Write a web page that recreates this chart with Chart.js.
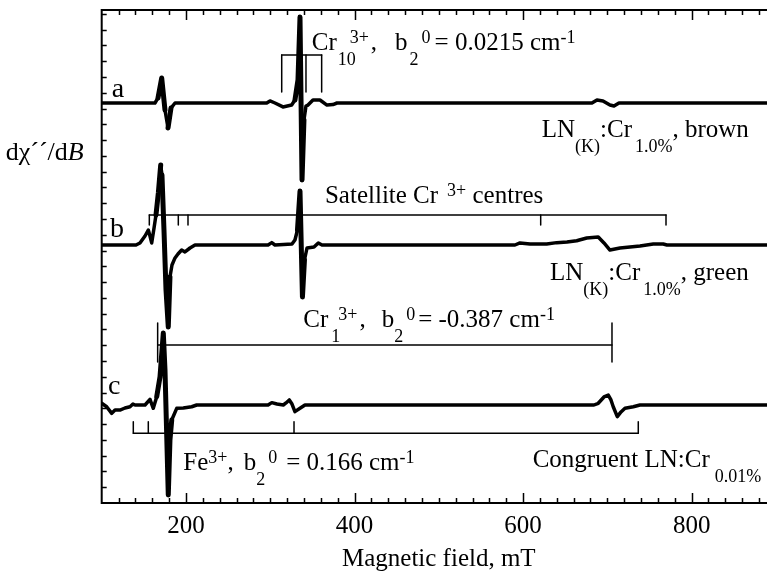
<!DOCTYPE html>
<html><head><meta charset="utf-8">
<script src="https://cdn.jsdelivr.net/npm/chart.js@4"></script>
<style>
html,body{margin:0;padding:0;overflow:hidden;background:#fff;width:767px;height:576px}
#wrap{position:absolute;left:0;top:0;width:800px;height:576px}
</style>
</head><body><div id="wrap"><canvas id="c" width="800" height="576"></canvas></div>
<script>
// ---- data (magnetic field in mT, signal in axis units relative to each trace baseline) ----
const xTickLabels = [200, 400, 600, 800];
const traceNames = ['a', 'b', 'c'];
const offsets = [25.355, 16.354, 6.212];

const fieldA = [100,163.2,166.8,171.2,175.1,178.7,182.2,187,295.8,299.7,305.6,315.1,325.4,329.3,332.9,335.3,337.7,340.0,342.4,344.8,350.7,359.0,367.3,374.4,379.2,681.7,687.7,694.8,703.1,707.9,713.8,900];
const sigA   = [0,0,0.32,1.58,-0.44,-1.58,-0.32,0,0,0.13,0,-0.25,-0.13,0.19,1.46,5.45,-4.88,-1.08,-0.19,-0.13,0.19,0.19,-0.13,-0.1,0,0,0.19,0.13,-0.13,-0.19,0,0];

const fieldB = [100,140.7,145.4,151.4,155.3,157.3,159.3,162.1,164.4,167.2,170.0,171.5,173.9,176.3,179.0,181.0,183.4,187.0,190.5,194.9,198.8,204.8,210.7,297.4,301.8,305.6,325.8,329.3,332.3,335.3,338.2,340.6,343.6,351.9,357.0,361.4,590.4,596.3,608.2,628.0,639.9,652.1,663.6,675.5,689.2,696.0,703.1,715.0,738.7,754.5,766.3,770.7,900];
const sigB   = [0,0,0.13,0.57,0.95,0.57,0.13,1.08,1.90,3.30,5.07,4.44,0.95,-2.85,-5.20,-2.03,-1.27,-0.82,-0.57,-0.32,-0.44,-0.19,0,0,0.15,0,0.06,0.32,0.95,3.42,-3.30,-0.95,-0.19,-0.13,0.13,0,0,0.13,0.06,0.06,0.15,0.19,0.27,0.44,0.51,0.13,-0.32,-0.19,-0.06,0.06,0.06,0,0];

const fieldC = [100,105.9,111.9,115.8,121.7,127.6,133.6,137.1,139.5,151.4,157.3,161.2,165.3,169.2,173.1,175.1,179.0,181.0,183.1,189.0,196.8,206.8,212.7,297.4,301.8,308.0,315.5,318.7,322.6,325.8,329.3,335.3,341.2,684.1,689.2,696.0,701.1,704.3,707.0,711.8,716.2,720.9,730.8,738.7,900];
const sigC   = [0.11,-0.11,-0.53,-0.32,-0.32,-0.19,-0.11,0.06,0,0,0.36,-0.21,0.53,1.79,4.56,2.22,-5.70,-2.22,-0.95,-0.21,-0.19,-0.11,0,0,0.15,0.06,0,0.13,0.32,0.06,-0.42,-0.21,0,0,0.11,0.51,0.63,0.32,-0.11,-0.74,-0.44,-0.21,-0.11,0,0];

// line-position brackets (field values of the marked resonances)
const cr10Lines = [313.6, 342.4, 361.0];
const satLines  = [156.5, 190.9, 202.4, 620.9, 769.6];
const cr1Lines  = [166.4, 705.5];
const feLines   = [137.5, 155.3, 328.2, 736.7];

// ---- build ----
const FONT = '"Liberation Serif","Times New Roman",serif';
const MINOR_STEP = 20;

function trace(f, s, off) { return f.map((v, i) => ({x: v, y: off + s[i]})); }
function bracket(ticks, level, lo, hi) {
  const pts = [{x: ticks[0], y: level}, {x: ticks[ticks.length - 1], y: level}, {x: ticks[0], y: null}];
  ticks.forEach(t => { pts.push({x: t, y: lo}, {x: t, y: hi}, {x: t, y: null}); });
  return pts;
}
const lineDs = (data, w, steep) => ({data, showLine: true, borderColor: '#000', borderWidth: w, pointRadius: 0,
  borderJoinStyle: 'round', borderCapStyle: 'round', spanGaps: false, tension: 0,
  segment: steep ? {borderWidth: c => Math.abs(c.p1.parsed.y - c.p0.parsed.y) > 1.2 ? 5 : w} : {}});

const datasets = [
  lineDs(trace(fieldA, sigA, offsets[0]), 3.5, true),
  lineDs(trace(fieldB, sigB, offsets[1]), 3.5, true),
  lineDs(trace(fieldC, sigC, offsets[2]), 3.5, true),
  lineDs(bracket(cr10Lines, 28.40, 26.05, 28.40), 1.5),
  lineDs(bracket(satLines, 18.26, 17.62, 18.26), 1.5),
  lineDs(bracket(cr1Lines, 10.02, 8.94, 11.41), 1.5),
  lineDs(bracket(feLines, 4.42, 4.42, 5.15), 1.5)
];

// annotation texts: [text, kind, gap]
const annotations = [
  {f: 349.2, v: 28.71, segs: [['Cr'], ['10', 'sub', 1], ['3+', 'sup', -6], [',', 'n', 2], ['b', 'n', 18], ['2', 'sub', 2], ['0', 'sup', 3], ['= 0.0215 cm', 'n', 4], ['-1', 'sup', 0]]},
  {f: 622.1, v: 23.20, segs: [['LN'], ['(K)', 'sub', 0], [':Cr', 'n', 0], ['1.0%', 'sub', 3], [', brown', 'n', 0]]},
  {f: 364.9, v: 19.02, segs: [['Satellite Cr'], ['3+', 'sup', 9], [' centres', 'n', 0]]},
  {f: 339.2, v: 11.18, segs: [['Cr'], ['1', 'sub', 3], ['3+', 'sup', -2], [',', 'n', 2], ['b', 'n', 16], ['2', 'sub', 0], ['0', 'sup', 3], ['= -0.387 cm', 'n', 3], ['-1', 'sup', 0]]},
  {f: 631.9, v: 14.14, segs: [['LN'], ['(K)', 'sub', 0], [':Cr', 'n', 0], ['1.0%', 'sub', 3], [', green', 'n', 0]]},
  {f: 196.8, v: 2.09, segs: [['Fe'], ['3+', 'sup', 0], [',', 'n', 0], ['b', 'n', 10], ['2', 'sub', 0], ['0', 'sup', 3], ['= 0.166 cm', 'n', 9], ['-1', 'sup', 0]]},
  {f: 611.4, v: 2.30, segs: [['Congruent LN:Cr'], ['0.01%', 'sub', 5]]}
];
const traceLabelPos = [[111.9, 25.75], [109.8, 16.88], [107.5, 6.94]];

const BIG = 25, SMALL = 18, SUBDY = 15, SUPDY = 7;
function rich(ctx, x, y, segs) {
  let cx = x;
  segs.forEach(([t, k = 'n', gap = 0]) => {
    const small = k === 'sub' || k === 'sup';
    ctx.font = (small ? SMALL : BIG) + 'px ' + FONT;
    const dy = k === 'sub' ? SUBDY : (k === 'sup' ? -SUPDY : 0);
    cx += gap;
    ctx.fillText(t, cx, y + dy);
    cx += ctx.measureText(t).width;
  });
}

const framePlugin = {
  id: 'frame',
  afterDatasetsDraw(chart) {
    const {ctx, chartArea: a, scales: {x, y}} = chart;
    ctx.save();
    ctx.strokeStyle = '#000';
    ctx.lineWidth = 2;
    ctx.strokeRect(a.left, a.top, a.right - a.left, a.bottom - a.top);
    ctx.lineWidth = 1.5;
    ctx.beginPath();
    for (let v = x.min + MINOR_STEP; v < x.max; v += MINOR_STEP) {
      const px = Math.round(x.getPixelForValue(v)) + 0.5;
      const len = xTickLabels.includes(v) ? 10 : 5;
      ctx.moveTo(px, a.bottom); ctx.lineTo(px, a.bottom - len);
      ctx.moveTo(px, a.top); ctx.lineTo(px, a.top + len);
    }
    for (let v = y.min + 1; v < y.max; v += 1) {
      const py = Math.round(y.getPixelForValue(v)) + 0.5;
      ctx.moveTo(a.left, py); ctx.lineTo(a.left + 5, py);
    }
    ctx.stroke();

    ctx.fillStyle = '#000';
    ctx.textBaseline = 'alphabetic';
    ctx.textAlign = 'left';
    annotations.forEach(an => rich(ctx, x.getPixelForValue(an.f), y.getPixelForValue(an.v), an.segs));
    ctx.font = '28px ' + FONT;
    traceNames.forEach((n, i) => ctx.fillText(n, x.getPixelForValue(traceLabelPos[i][0]), y.getPixelForValue(traceLabelPos[i][1])));
    // y-axis label
    ctx.font = '26px ' + FONT;
    const lx = a.left - 96, ly = 160;
    ctx.fillText('d\u03C7\u00B4\u00B4/d', lx, ly);
    const w = ctx.measureText('d\u03C7\u00B4\u00B4/d').width;
    ctx.font = 'italic 26px ' + FONT;
    ctx.fillText('B', lx + w, ly);
    ctx.restore();
  }
};

new Chart(document.getElementById('c'), {
  type: 'scatter',
  data: {datasets},
  options: {
    responsive: false, animation: false, devicePixelRatio: 1, events: [],
    layout: {padding: {left: 101.7, top: 10, right: 24.1, bottom: 0}},
    plugins: {legend: {display: false}, tooltip: {enabled: false}},
    scales: {
      x: {
        type: 'linear', min: 100, max: 900, position: 'bottom',
        grid: {display: false, drawTicks: false}, border: {display: false},
        ticks: {font: {family: FONT, size: 25}, color: '#000', padding: 8, maxRotation: 0, autoSkip: false},
        afterBuildTicks: s => { s.ticks = xTickLabels.map(v => ({value: v})); },
        afterFit: s => { s.height = 73; },
        title: {display: true, text: 'Magnetic field, mT', font: {family: FONT, size: 25}, color: '#000', padding: {top: 0, bottom: 2}}
      },
      y: {display: false, min: 0, max: 31.25}
    }
  },
  plugins: [framePlugin]
});
</script></body></html>
